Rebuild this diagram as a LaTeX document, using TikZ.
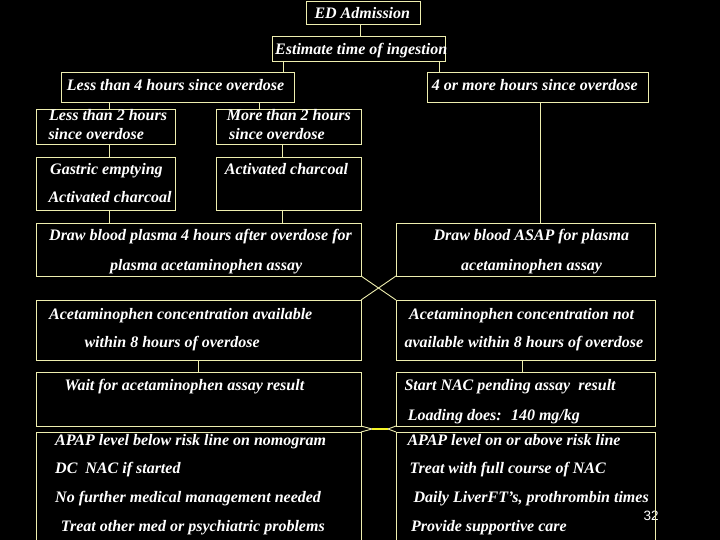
\documentclass[tikz,border=0pt]{standalone}
\usepackage{fontspec}
\setmainfont{Liberation Serif}
\newfontfamily\numfont{Liberation Sans}
\usetikzlibrary{calc}
\definecolor{edgecol}{RGB}{238,238,175}
\definecolor{hicol}{RGB}{245,245,40}
\begin{document}
\begin{tikzpicture}[x=1pt,y=-1pt,
  box/.style={draw=edgecol,line width=0.9pt,anchor=north west,inner sep=0pt,outer sep=0pt},
  link/.style={draw=edgecol,line width=0.9pt},
  txt/.style={anchor=base west,inner sep=0pt,text=white,font=\bfseries\itshape\fontsize{16}{18}\selectfont},
  pagenum/.style={inner sep=0pt,text=white,font=\numfont\fontsize{13.5}{15}\selectfont}]
\useasboundingbox (0,0) rectangle (720,540);
\fill[black] (0,0) rectangle (720,540);
\clip (0,0) rectangle (720,540);
% page number (under the box line)
\node[pagenum] (pg) at (651,516) {32};
% boxes
\node[box,minimum width=114pt,minimum height=23pt] (ed)  at (306,1) {};
\node[box,minimum width=173pt,minimum height=25pt] (est) at (272,36) {};
\node[box,minimum width=233pt,minimum height=30pt] (l4)  at (61,72.5) {};
\node[box,minimum width=221pt,minimum height=30pt] (m4)  at (427,72.5) {};
\node[box,minimum width=139pt,minimum height=35pt] (l2)  at (36,109) {};
\node[box,minimum width=145pt,minimum height=35pt] (m2)  at (216,109) {};
\node[box,minimum width=139pt,minimum height=53pt] (gas) at (36,157) {};
\node[box,minimum width=145pt,minimum height=53pt] (ac)  at (216,157) {};
\node[box,minimum width=325pt,minimum height=53pt] (dbl) at (36,223) {};
\node[box,minimum width=259pt,minimum height=53pt] (dbr) at (396,223) {};
\node[box,minimum width=325pt,minimum height=60pt] (avl) at (36,300) {};
\node[box,minimum width=259pt,minimum height=60pt] (avr) at (396,300) {};
\node[box,minimum width=325pt,minimum height=54pt] (wait) at (36,372) {};
\node[box,minimum width=259pt,minimum height=54pt] (nac) at (396,372) {};
\node[box,minimum width=325pt,minimum height=120pt] (bel) at (36,432) {};
\node[box,minimum width=259pt,minimum height=120pt] (abv) at (396,432) {};
% texts
\node[txt] (t1) at (314.3,18.7) {ED Admission};
\node[txt] (t2) at (275,55) {Estimate time of ingestion};
\node[txt] (t3) at (66.7,90.7) {Less than 4 hours since overdose};
\node[txt] (t4) at (431.7,90.5) {4 or more hours since overdose};
\node[txt] (t5) at (49,121) {Less than 2 hours};
\node[txt] (t6) at (48.3,140) {since overdose};
\node[txt] (t7) at (226.7,121) {More than 2 hours};
\node[txt] (t8) at (229,140) {since overdose};
\node[txt] (t9) at (50,174.3) {Gastric emptying};
\node[txt] (t10) at (48.3,202.7) {Activated charcoal};
\node[txt] (t11) at (224.7,174.3) {Activated charcoal};
\node[txt] (t12) at (49,240.7) {Draw blood plasma 4 hours after overdose for};
\node[txt] (t13) at (110,270) {plasma acetaminophen assay};
\node[txt] (t14) at (433.3,240.7) {Draw blood ASAP for plasma};
\node[txt] (t15) at (461,270) {acetaminophen assay};
\node[txt] (t16) at (49,319) {Acetaminophen concentration available};
\node[txt] (t17) at (84.3,347.7) {within 8 hours of overdose};
\node[txt] (t18) at (409,319) {Acetaminophen concentration not};
\node[txt] (t19) at (404.3,347.7) {available within 8 hours of overdose};
\node[txt] (t20) at (64.3,390.7) {Wait for acetaminophen assay result};
\node[txt] (t21) at (404.3,390.7) {Start NAC pending assay~ result};
\node[txt] (t22) at (407.7,420) {Loading does:~ 140 mg/kg};
\node[txt] (t23) at (55,445) {APAP level below risk line on nomogram};
\node[txt] (t24) at (55,473.3) {DC~ NAC if started};
\node[txt] (t25) at (55,502.3) {No further medical management needed};
\node[txt] (t26) at (60.7,531) {Treat other med or psychiatric problems};
\node[txt] (t27) at (407.3,445) {APAP level on or above risk line};
\node[txt] (t28) at (409.3,473.3) {Treat with full course of NAC};
\node[txt] (t29) at (413.3,502.3) {Daily LiverFT’s, prothrombin times};
\node[txt] (t30) at (411,531) {Provide supportive care};
% connectors
\draw[link] (ed.south -| 360,0) -- (est.north -| 360,0);
\draw[link] (est.south -| 283,0) -- (l4.north -| 283,0);
\draw[link] (est.south -| 439,0) -- (m4.north -| 439,0);
\draw[link] (l4.south -| 109,0) -- (l2.north -| 109,0);
\draw[link] (l4.south -| 259,0) -- (m2.north -| 259,0);
\draw[link] (l2.south -| 109,0) -- (gas.north -| 109,0);
\draw[link] (m2.south -| 282,0) -- (ac.north -| 282,0);
\draw[link] (gas.south -| 109,0) -- (dbl.north -| 109,0);
\draw[link] (ac.south -| 282,0) -- (dbl.north -| 282,0);
\draw[link] (m4.south -| 540,0) -- (dbr.north -| 540,0);
\draw[link] (dbl.south east) -- (avr.north west);
\draw[link] (dbr.south west) -- (avl.north east);
\draw[link] (avl.south -| 198,0) -- (wait.north -| 198,0);
\draw[link] (avr.south -| 522,0) -- (nac.north -| 522,0);
\coordinate (ml) at (372,429);
\coordinate (mr) at (388,429);
\draw[link] (wait.south east) -- (ml) -- (mr) -- (abv.north west);
\draw[link] (nac.south west) -- (mr) -- (ml) -- (bel.north east);
\draw[draw=hicol,line width=2pt] (ml) -- (mr);
\end{tikzpicture}
\end{document}
